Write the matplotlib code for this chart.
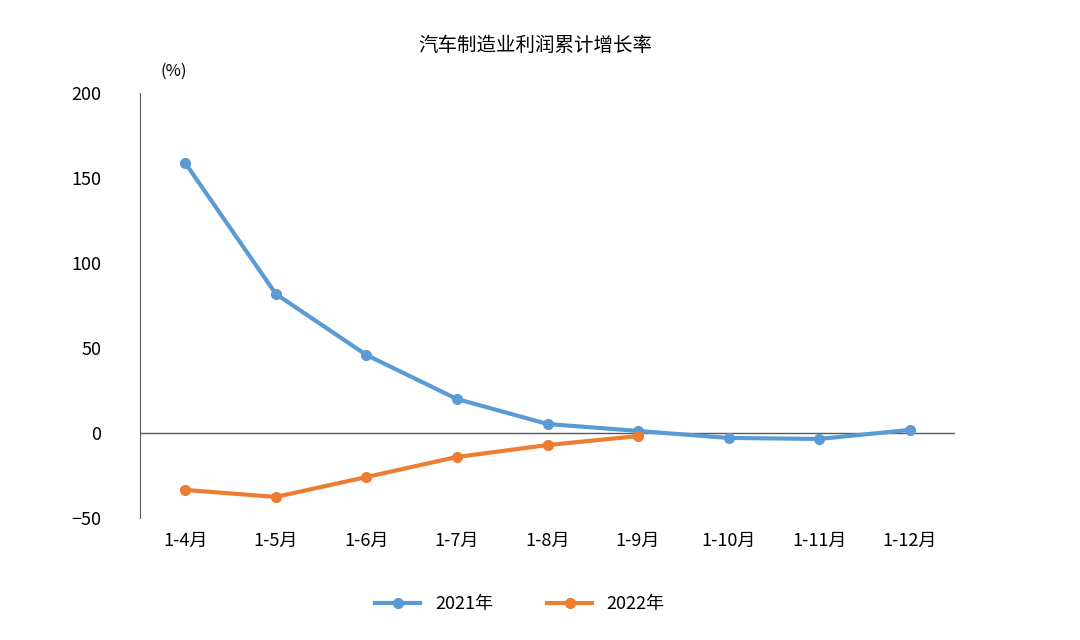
import matplotlib
matplotlib.use("Agg")
import matplotlib.pyplot as plt

plt.rcParams["font.family"] = ["Noto Sans CJK SC", "DejaVu Sans"]

categories = ["1-4月", "1-5月", "1-6月", "1-7月", "1-8月", "1-9月", "1-10月", "1-11月", "1-12月"]
s2021 = [158.8, 81.8, 45.9, 20.0, 5.3, 1.2, -2.9, -3.5, 1.8]
s2022 = [-33.5, -37.6, -25.9, -14.1, -7.1, -1.8]
yticks = [-50, 0, 50, 100, 150, 200]

fig = plt.figure(figsize=(10.8, 6.4), dpi=100)
ax = fig.add_axes([140/1080, 1-518/640, 815/1080, 425/640])
x = list(range(len(categories)))
ax.plot(x, s2021, color="#5B9BD5", lw=3, marker="o", ms=7, label="2021年", zorder=3)
ax.plot(x[:len(s2022)], s2022, color="#ED7D31", lw=3, marker="o", ms=7, label="2022年", zorder=3)
ax.axhline(0, color="#595959", lw=1, zorder=1)
ax.set_xlim(-0.5, 8.5)
ax.set_ylim(-50, 200)
ax.set_yticks(yticks)
ax.set_xticks([])
for i, c in enumerate(categories):
    ax.text(i, -58, c, ha="center", va="top", fontsize=13)
for s in ["top", "right", "bottom"]:
    ax.spines[s].set_visible(False)
ax.spines["left"].set_color("#595959")
ax.tick_params(axis="y", length=0, labelsize=13, pad=28)
ax.text(0.025, 1.03, "(%)", transform=ax.transAxes, fontsize=12, ha="left", va="bottom")
fig.text(535/1080, 1-45/640, "汽车制造业利润累计增长率", ha="center", va="center", fontsize=14)
fig.legend(loc="center", bbox_to_anchor=(520/1080, 1-604/640), ncol=2, frameon=False,
           fontsize=13, columnspacing=3, handlelength=2.5)
fig.savefig("out.png", dpi=100)
